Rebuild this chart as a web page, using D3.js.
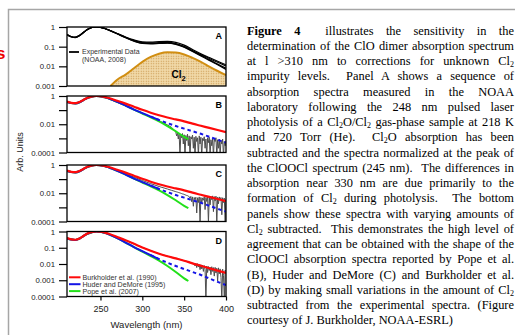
<!DOCTYPE html>
<html>
<head>
<meta charset="utf-8">
<script src="https://cdn.jsdelivr.net/npm/d3@7"></script>
<style>
  body { margin: 0; background: #fff; }
  #wrap { position: relative; width: 515px; height: 335px; overflow: hidden; background: #fff; }
  #wrap svg { position: absolute; left: 0; top: 0; }
  .txt {
    position: absolute; left: 247px; width: 267px; height: 15px;
    font-family: "Liberation Serif", "Times New Roman", serif; font-size: 12.4px; line-height: 15px;
    white-space: nowrap; text-align: justify; text-align-last: justify; color: #000;
  }
  .txt.last { text-align-last: left; }
  .txt sub { font-size: 8px; line-height: 0; vertical-align: -2px; }
  .tick text { font-family: "Liberation Sans", Arial, sans-serif; fill: #222; }
</style>
</head>
<body>
<div id="wrap"></div>
<script>
// wavelength grid (nm) for the reference spectra and panel A traces
const wl = [210, 215, 220, 225, 230, 235, 240, 245, 250, 255, 260, 270, 280, 290, 300, 310, 320, 330, 340, 350, 360, 370, 380, 390, 400];

// panel A: experimental data bundle (NOAA, 2008)
const expt1 = [0.42, 0.33, 0.31, 0.38, 0.55, 0.78, 0.95, 1.0, 0.96, 0.85, 0.70, 0.47, 0.31, 0.22, 0.175, 0.17, 0.18, 0.185, 0.165, 0.12, 0.072, 0.044, 0.028, 0.018, 0.012];
const expt2 = [0.41, 0.32, 0.30, 0.37, 0.54, 0.77, 0.94, 1.0, 0.96, 0.85, 0.70, 0.46, 0.30, 0.205, 0.16, 0.155, 0.16, 0.165, 0.145, 0.105, 0.064, 0.040, 0.025, 0.016, 0.0105];
const expt3 = [0.40, 0.32, 0.30, 0.37, 0.54, 0.77, 0.94, 1.0, 0.95, 0.84, 0.69, 0.45, 0.29, 0.195, 0.15, 0.145, 0.15, 0.155, 0.136, 0.098, 0.060, 0.037, 0.022, 0.013, 0.008];
const expt4 = [0.40, 0.31, 0.29, 0.36, 0.53, 0.76, 0.94, 1.0, 0.95, 0.84, 0.69, 0.45, 0.285, 0.19, 0.145, 0.14, 0.145, 0.15, 0.13, 0.094, 0.057, 0.034, 0.020, 0.012, 0.007];

// panel A: Cl2 absorption
const cl2Wl = [262, 270, 280, 290, 300, 310, 320, 330, 340, 350, 360, 370, 380, 390, 400];
const cl2 = [0.001, 0.0021, 0.0038, 0.008, 0.017, 0.030, 0.044, 0.052, 0.050, 0.040, 0.027, 0.017, 0.0098, 0.0058, 0.0036];

// reference ClOOCl spectra
const burkholder = [0.40, 0.33, 0.31, 0.37, 0.55, 0.78, 0.95, 1.0, 0.97, 0.86, 0.72, 0.46, 0.29, 0.175, 0.105, 0.066, 0.043, 0.030, 0.022, 0.016, 0.011, 0.0078, 0.0055, 0.0039, 0.0028];
const huder = [0.38, 0.32, 0.30, 0.36, 0.54, 0.77, 0.94, 1.0, 0.95, 0.83, 0.67, 0.39, 0.21, 0.11, 0.062, 0.035, 0.020, 0.012, 0.0075, 0.0049, 0.0032, 0.0021, 0.0013, 0.0008, 0.0005];
const popeWl = [210, 215, 220, 225, 230, 235, 240, 245, 250, 255, 260, 270, 280, 290, 300, 310, 320, 330, 340, 350, 355];
const pope = [0.38, 0.32, 0.30, 0.36, 0.54, 0.77, 0.94, 1.0, 0.95, 0.83, 0.67, 0.39, 0.21, 0.108, 0.058, 0.031, 0.016, 0.0075, 0.0032, 0.0013, 0.0009];
const huderDashFrom = 315;

// panels B-D: experimental spectra after Cl2 subtraction (1 nm above 340 nm)
const grayWl = [210, 220, 230, 245, 260, 280, 300, 310, 320, 330, 335,
  340, 341, 342, 343, 344, 345, 346, 347, 348, 349,
  350, 351, 352, 353, 354, 355, 356, 357, 358, 359,
  360, 361, 362, 363, 364, 365, 366, 367, 368, 369,
  370, 371, 372, 373, 374, 375, 376, 377, 378, 379,
  380, 381, 382, 383, 384, 385, 386, 387, 388, 389,
  390, 391, 392, 393, 394, 395, 396, 397, 398, 399, 400];
const grayB = [0.38, 0.30, 0.54, 1.0, 0.62, 0.20, 0.058, 0.031, 0.018, 0.009, 0.006,
  0.0028, 0.0015, 0.0024, 0.0009, 0.0021, 0.00006, 0.0019, 0.0011, 0.0022, 0.0004,
  0.0018, 0.00005, 0.0016, 0.0007, 0.002, 0.0003, 0.0015, 0.00005, 0.0013, 0.0009,
  0.0017, 0.0002, 0.0012, 0.00005, 0.0014, 0.0006, 0.0011, 0.00006, 0.0015, 0.0004,
  0.0012, 0.00005, 0.001, 0.0007, 0.0013, 0.0002, 0.0009, 0.00005, 0.0011, 0.0005,
  0.0012, 0.00006, 0.0008, 0.0003, 0.001, 0.00005, 0.0009, 0.0006, 0.0011, 0.00005,
  0.0008, 0.0002, 0.0009, 0.00006, 0.0007, 0.0004, 0.0009, 0.00005, 0.0006, 0.0003, 0.0007];
const grayC = [0.39, 0.31, 0.55, 1.0, 0.66, 0.24, 0.08, 0.048, 0.03, 0.02, 0.016,
  0.013, 0.0125, 0.012, 0.0115, 0.011, 0.0105, 0.01, 0.0095, 0.009, 0.0087,
  0.0083, 0.0078, 0.0074, 0.007, 0.0068, 0.0062, 0.0058, 0.0045, 0.006, 0.0025,
  0.0055, 0.0012, 0.005, 0.0035, 0.0052, 0.0004, 0.0048, 0.0022, 0.0055, 0.00008,
  0.005, 0.0018, 0.0047, 0.0032, 0.0055, 0.0007, 0.005, 0.0026, 0.0062, 0.00008,
  0.0055, 0.0015, 0.006, 0.0035, 0.0065, 0.0005, 0.0058, 0.0028, 0.0062, 0.00007,
  0.0052, 0.0018, 0.0055, 0.0032, 0.005, 0.0003, 0.0048, 0.0022, 0.0045, 0.00009, 0.004];
const grayD = [0.40, 0.31, 0.55, 1.0, 0.72, 0.29, 0.105, 0.066, 0.043, 0.03, 0.026,
  0.022, 0.0215, 0.021, 0.02, 0.0195, 0.019, 0.0182, 0.0175, 0.017, 0.0165,
  0.016, 0.0155, 0.015, 0.0145, 0.014, 0.0135, 0.013, 0.0125, 0.012, 0.0115,
  0.011, 0.0095, 0.0115, 0.0075, 0.011, 0.006, 0.0105, 0.0065, 0.0095, 0.0045,
  0.009, 0.005, 0.0085, 0.0035, 0.008, 0.0045, 0.00006, 0.0075, 0.003, 0.007,
  0.004, 0.0065, 0.0022, 0.0068, 0.0035, 0.006, 0.0018, 0.0062, 0.0028, 0.0055,
  0.0009, 0.0058, 0.0025, 0.005, 0.0015, 0.00006, 0.0048, 0.002, 0.00007, 0.0042, 0.0035];

const xTicks = [250, 300, 350, 400];
const legendD = ["Burkholder et al. (1990)", "Huder and DeMore (1995)", "Pope et al. (2007)"];

const textLines = [
  '<b>Figure 4</b>&nbsp; illustrates the sensitivity in the',
  'determination of the ClO dimer absorption spectrum',
  'at l &gt;310 nm to corrections for unknown Cl<sub>2</sub>',
  'impurity levels.&nbsp; Panel A shows a sequence of',
  'absorption spectra measured in the NOAA',
  'laboratory following the 248 nm pulsed laser',
  'photolysis of a Cl<sub>2</sub>O/Cl<sub>2</sub> gas-phase sample at 218 K',
  'and 720 Torr (He).&nbsp; Cl<sub>2</sub>O absorption has been',
  'subtracted and the spectra normalized at the peak of',
  'the ClOOCl spectrum (245 nm).&nbsp; The differences in',
  'absorption near 330 nm are due primarily to the',
  'formation of Cl<sub>2</sub> during photolysis.&nbsp; The bottom',
  'panels show these spectra with varying amounts of',
  'Cl<sub>2</sub> subtracted.&nbsp; This demonstrates the high level of',
  'agreement that can be obtained with the shape of the',
  'ClOOCl absorption spectra reported by Pope et al.',
  '(B), Huder and DeMore (C) and Burkholder et al.',
  '(D) by making small variations in the amount of Cl<sub>2</sub>',
  'subtracted from the experimental spectra. (Figure',
  'courtesy of J. Burkholder, NOAA-ESRL)'
];

const W = 515, H = 335;
const RED = "#ff0a0a", BLUE = "#1414e6", GREEN = "#22e01a", GRAY = "#4d4d4d", GOLD = "#d18e12";

const wrap = d3.select("#wrap");
const svg = wrap.append("svg").attr("width", W).attr("height", H);

// page frame + stray heading fragment
svg.append("path").attr("d", `M8.5,${H}V9.5H${W}`).attr("fill", "none").attr("stroke", "#a6a6a6").attr("stroke-width", 1.5);
svg.append("text").attr("x", -4).attr("y", 59).text("s")
  .style("font", "bold 17px 'Liberation Sans', Arial, sans-serif").attr("fill", "#e00");

const x = d3.scaleLinear().domain([210, 400]).range([67, 226]);

const panels = [
  { key: "A", top: 27, bottom: 86, min: 0.001, ticks: [1, 0.1, 0.01, 0.001], labels: [1, 0.1, 0.01, 0.001] },
  { key: "B", top: 96, bottom: 152.5, min: 0.0001, ticks: [1, 0.1, 0.01, 0.001, 0.0001], labels: [1, 0.01, 0.0001], gray: grayB },
  { key: "C", top: 165, bottom: 221.5, min: 0.0001, ticks: [1, 0.1, 0.01, 0.001, 0.0001], labels: [1, 0.01, 0.0001], gray: grayC },
  { key: "D", top: 231.5, bottom: 296.5, min: 0.0001, ticks: [1, 0.1, 0.01, 0.001, 0.0001], labels: [1, 0.1, 0.01, 0.001, 0.0001], gray: grayD }
];

// dotted fill for the Cl2 area
const defs = svg.append("defs");
const pat = defs.append("pattern").attr("id", "dots").attr("patternUnits", "userSpaceOnUse")
  .attr("width", 2.5).attr("height", 2.5);
pat.append("rect").attr("width", 2.5).attr("height", 2.5).attr("fill", "#f1d9a8");
pat.append("circle").attr("cx", 1.25).attr("cy", 1.25).attr("r", 0.6).attr("fill", "#c8944a");

const zip = (xs, ys) => xs.map((d, i) => [d, ys[i]]);
const small = "'Liberation Sans', Arial, sans-serif";

panels.forEach(p => {
  const y = d3.scaleLog().domain([p.min, 1]).range([p.bottom, p.top]);
  const g = svg.append("g");

  defs.append("clipPath").attr("id", "clip" + p.key)
    .append("rect").attr("x", x(210)).attr("y", p.top).attr("width", x(400) - x(210)).attr("height", p.bottom - p.top);
  const plot = g.append("g").attr("clip-path", `url(#clip${p.key})`);

  const line = d3.line().x(d => x(d[0])).y(d => y(Math.max(d[1], 1e-6))).curve(d3.curveMonotoneX);
  const rough = d3.line().x(d => x(d[0])).y(d => y(Math.max(d[1], 1e-6)));

  if (p.key === "A") {
    const area = d3.area().x(d => x(d[0])).y0(p.bottom).y1(d => y(d[1])).curve(d3.curveMonotoneX);
    plot.append("path").attr("d", area(zip(cl2Wl, cl2))).attr("fill", "url(#dots)");
    plot.append("path").attr("d", line(zip(cl2Wl, cl2))).attr("fill", "none").attr("stroke", GOLD).attr("stroke-width", 2);
    [expt1, expt2, expt3, expt4].forEach(s => {
      plot.append("path").attr("d", line(zip(wl, s))).attr("fill", "none").attr("stroke", "#000").attr("stroke-width", 1.2);
    });
    g.append("text").attr("x", x(335)).attr("y", 78).style("font", `bold 10px ${small}`)
      .html('Cl<tspan dy="2.5" font-size="7.5">2</tspan>');
    g.append("line").attr("x1", 69).attr("x2", 79).attr("y1", 52).attr("y2", 52).attr("stroke", "#000").attr("stroke-width", 1.8);
    g.append("text").attr("x", 82).attr("y", 54.3).text("Experimental Data")
      .style("font", `7px ${small}`).attr("fill", "#333");
    g.append("text").attr("x", 82).attr("y", 61.5).text("(NOAA, 2008)")
      .style("font", `7px ${small}`).attr("fill", "#333");
  } else {
    plot.append("path").attr("d", rough(zip(grayWl, p.gray))).attr("fill", "none").attr("stroke", GRAY).attr("stroke-width", 1);
    plot.append("path").attr("d", line(zip(popeWl, pope))).attr("fill", "none").attr("stroke", GREEN).attr("stroke-width", 2);
    const hd = zip(wl, huder);
    plot.append("path").attr("d", line(hd.filter(d => d[0] <= huderDashFrom + 5))).attr("fill", "none").attr("stroke", BLUE).attr("stroke-width", 2);
    plot.append("path").attr("d", line(hd.filter(d => d[0] >= huderDashFrom - 5))).attr("fill", "none").attr("stroke", BLUE)
      .attr("stroke-width", 2).attr("stroke-dasharray", "3.5,3");
    plot.append("path").attr("d", line(zip(wl, burkholder))).attr("fill", "none").attr("stroke", RED).attr("stroke-width", 2.2);
  }

  // frame and log axis
  g.append("rect").attr("x", x(210)).attr("y", p.top).attr("width", x(400) - x(210)).attr("height", p.bottom - p.top)
    .attr("fill", "none").attr("stroke", "#000").attr("stroke-width", 1.3);
  const ax = g.append("g").attr("transform", `translate(${x(210)},0)`)
    .call(d3.axisLeft(y).tickValues(p.ticks).tickSize(8).tickPadding(4).tickSizeOuter(0)
      .tickFormat(d => p.labels.includes(d) ? String(d) : ""));
  ax.select(".domain").remove();
  ax.selectAll(".tick line").attr("stroke-width", 1.2);
  ax.selectAll(".tick text").style("font-size", "7.8px");

  g.append("text").attr("x", 222).attr("y", p.top + 12).attr("text-anchor", "end").text(p.key)
    .style("font", `bold 9px ${small}`);

  if (p.key === "D") {
    const xa = g.append("g").attr("transform", `translate(0,${p.bottom})`)
      .call(d3.axisBottom(x).tickValues(xTicks).tickSize(4).tickPadding(5).tickSizeOuter(0));
    xa.select(".domain").remove();
    xa.selectAll(".tick line").attr("stroke-width", 1.2);
    xa.selectAll(".tick text").style("font-size", "9px");

    [RED, BLUE, GREEN].forEach((c, i) => {
      const ly = 277.3 + i * 6.9;
      g.append("line").attr("x1", 69).attr("x2", 80.5).attr("y1", ly).attr("y2", ly).attr("stroke", c).attr("stroke-width", 2);
      g.append("text").attr("x", 82.5).attr("y", ly + 2.4).text(legendD[i])
        .style("font", `7.1px ${small}`).attr("fill", "#333");
    });
  }
});

svg.append("text").attr("x", x(305)).attr("y", 327.5).attr("text-anchor", "middle").text("Wavelength (nm)")
  .style("font", `9.5px ${small}`).attr("fill", "#222");
svg.append("text").attr("transform", "translate(23,152) rotate(-90)").attr("text-anchor", "middle").text("Arb. Units")
  .style("font", `9px ${small}`).attr("fill", "#222");

// justified caption, one div per printed line
const rows = wrap.selectAll("div.txt").data(textLines).join("div")
  .attr("class", (d, i) => i === textLines.length - 1 ? "txt last" : "txt")
  .style("top", (d, i) => (23.5 + i * 15.25) + "px")
  .html(d => d);

// shrink any line that would not fit in the column
rows.each(function () {
  const el = this;
  let fs = 12.4;
  while (el.scrollWidth > 267 && fs > 10) {
    fs -= 0.1;
    el.style.fontSize = fs + "px";
  }
});
</script>
</body>
</html>
